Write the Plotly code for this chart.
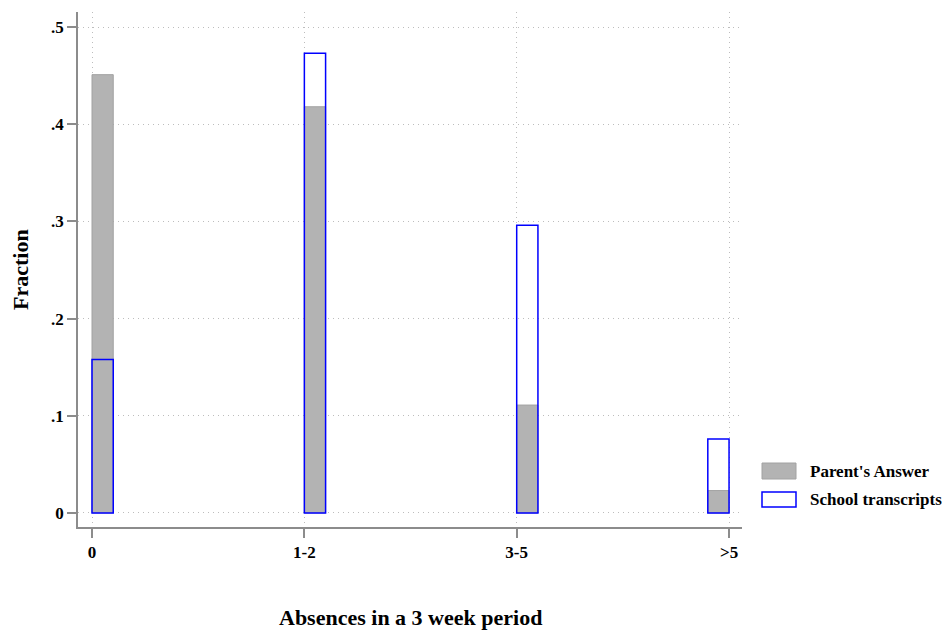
import plotly.graph_objects as go

categories = ["0", "1-2", "3-5", ">5"]
tick_positions = [0, 1, 2, 3]
bar_left = [0, 1, 2, 2.9]
parent_answer = [0.451, 0.418, 0.111, 0.023]
school_transcripts = [0.158, 0.473, 0.296, 0.076]
y_ticks = [0, 0.1, 0.2, 0.3, 0.4, 0.5]
y_tick_labels = ["0", ".1", ".2", ".3", ".4", ".5"]
series_names = ["Parent's Answer", "School transcripts"]

bar_w = 0.1
font_family = "Liberation Serif"
tick_size = 17
title_size = 22

# the page body adds an 8px offset; work in window pixels and shift
OFF = 8
FIG_W, FIG_H = 950 - OFF, 630 - OFF
L, R, T, B = 78, 742, 12, 527          # plot area in window pixels
W, H = R - L, B - T


def px_x(p):
    return (p - L) / W


def px_y(p):
    return (B - p) / H


fig = go.Figure()
fig.add_trace(go.Bar(
    x=[p + bar_w / 2 for p in bar_left], y=parent_answer, width=bar_w,
    name=series_names[0],
    marker=dict(color="#b3b3b3", line=dict(color="#a2a2a2", width=1)),
))
fig.add_trace(go.Bar(
    x=[p + bar_w / 2 for p in bar_left], y=school_transcripts, width=bar_w,
    name=series_names[1],
    marker=dict(color="rgba(0,0,0,0)", line=dict(color="#0000ff", width=1.5)),
))

axis_common = dict(
    showline=True, linecolor="#8c8c8c", linewidth=1.5,
    ticks="outside", ticklen=9, tickcolor="#8c8c8c", tickwidth=1.5,
    showgrid=True, gridcolor="#bdbdbd", griddash="1px,4px", gridwidth=1,
    zeroline=False, automargin=False,
    tickfont=dict(family=font_family, size=tick_size, color="black"),
)

fig.update_layout(
    width=FIG_W, height=FIG_H,
    barmode="overlay",
    plot_bgcolor="white", paper_bgcolor="white",
    margin=dict(l=L - OFF, r=FIG_W - (R - OFF), t=T - OFF, b=FIG_H - (B - OFF),
                autoexpand=False),
    font=dict(family=font_family, size=tick_size, color="black"),
    showlegend=False,
    xaxis=dict(range=[-0.066, 3.061], tickvals=tick_positions,
               ticktext=[f"<b>{c}</b>" for c in categories], **axis_common),
    yaxis=dict(range=[-0.0145, 0.5155], tickvals=y_ticks,
               ticktext=[f"<b>{t}</b>" for t in y_tick_labels], **axis_common),
)

# axis titles
fig.add_annotation(text="<b>Absences in a 3 week period</b>", xref="paper", yref="paper",
                   x=0.5, y=px_y(617), xanchor="center", yanchor="middle", showarrow=False,
                   font=dict(family=font_family, size=title_size, color="black"))
fig.add_annotation(text="<b>Fraction</b>", xref="paper", yref="paper",
                   x=px_x(20), y=px_y(270), xanchor="center", yanchor="middle",
                   showarrow=False, textangle=-90,
                   font=dict(family=font_family, size=title_size, color="black"))

# legend (drawn by hand to get wide key rectangles)
legend_keys = [
    dict(fill="#b3b3b3", line="#a2a2a2", lw=1, top=463, bot=479),
    dict(fill="white", line="#0000ff", lw=1.5, top=492, bot=507),
]
for name, key in zip(series_names, legend_keys):
    fig.add_shape(type="rect", xref="paper", yref="paper",
                  x0=px_x(762), x1=px_x(796), y0=px_y(key["bot"]), y1=px_y(key["top"]),
                  fillcolor=key["fill"], line=dict(color=key["line"], width=key["lw"]))
    fig.add_annotation(text=f"<b>{name}</b>", xref="paper", yref="paper",
                       x=px_x(808), y=px_y((key["top"] + key["bot"]) / 2),
                       xanchor="left", yanchor="middle", showarrow=False,
                       font=dict(family=font_family, size=tick_size, color="black"))

fig.write_html("out.html")
